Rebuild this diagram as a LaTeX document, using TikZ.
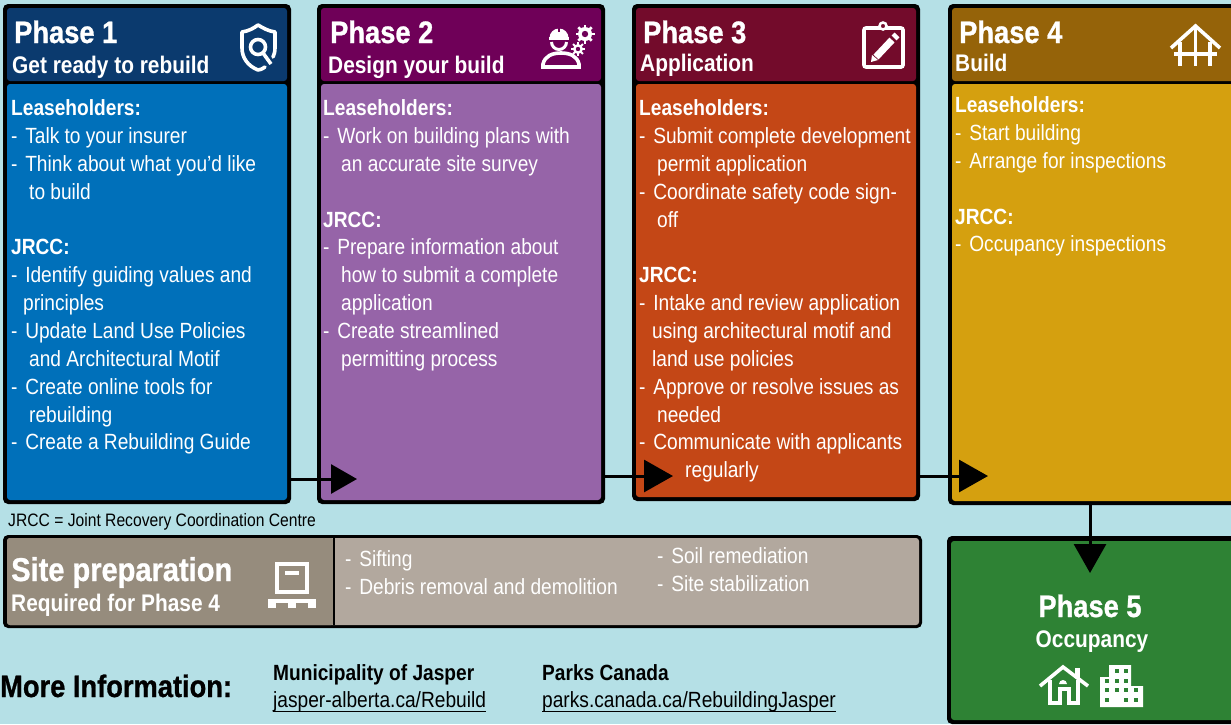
\documentclass[tikz,border=0pt]{standalone}
\usepackage{fontspec}
\setmainfont[FakeStretch=0.87]{Liberation Sans}
\newfontfamily\heavyfont[FakeStretch=0.88,BoldFeatures={FakeBold=0.9}]{Liberation Sans}
\usetikzlibrary{arrows.meta}

\newcommand{\stepdash}{-\hspace{2.4pt} }
\newcommand{\linktext}[1]{\underline{\smash{#1}\rule[-2.5pt]{0pt}{1pt}}}

\definecolor{pagebg}{HTML}{B5E0E6}
\definecolor{headone}{HTML}{0B3A6E}
\definecolor{fillone}{HTML}{0070BA}
\definecolor{headtwo}{HTML}{6F0058}
\definecolor{filltwo}{HTML}{9664A8}
\definecolor{headthree}{HTML}{730B2B}
\definecolor{fillthree}{HTML}{C44716}
\definecolor{headfour}{HTML}{956309}
\definecolor{fillfour}{HTML}{D5A00F}
\definecolor{fillfive}{HTML}{2E8234}
\definecolor{headsite}{HTML}{968C7D}
\definecolor{fillsite}{HTML}{B2A89E}

\tikzset{
  framebox/.style={anchor=north west, fill=black, rounded corners=5pt, inner sep=0pt, outer sep=0pt},
  panelbox/.style={anchor=north west, rounded corners=3pt, inner sep=0pt, outer sep=0pt},
  titletext/.style={anchor=base west, inner sep=0pt, text=white, font=\fontsize{31}{33}\heavyfont\bfseries},
  subtext/.style={anchor=base west, inner sep=0pt, text=white, font=\fontsize{24}{28}\selectfont\bfseries},
  bodytext/.style={anchor=north west, inner sep=0pt, text=white, align=left, font=\fontsize{22}{27.85}\selectfont},
  infotext/.style={anchor=base west, inner sep=0pt, text=black, font=\fontsize{22}{26}\selectfont},
  flowarrow/.style={line width=3pt, -{Triangle[length=26pt, width=29pt]}},
  wideflow/.style={line width=3pt, -{Triangle[length=29pt, width=32pt]}},
  iconline/.style={draw=white, line width=3.6pt}
}

\begin{document}
\begin{tikzpicture}[x=1pt, y=-1pt]

  % --- Page ---
  \useasboundingbox (0,0) rectangle (1231,724);
  \fill[pagebg] (0,0) rectangle (1231,724);

  % --- Phase 1 ---
  \node[framebox, minimum width=288pt, minimum height=500pt] (phaseone) at (3,4) {};
  \node[panelbox, fill=headone, minimum width=280pt, minimum height=73pt] (headerone) at (7,8) {};
  \node[panelbox, fill=fillone, minimum width=280pt, minimum height=416pt] (bodyone) at (7,84) {};
  \node[titletext] (titleone) at (14,43) {Phase 1};
  \node[subtext] (subone) at (12,73) {Get ready to rebuild};
  \node[bodytext] (textone) at (11,99.5) {\textbf{Leaseholders:}\\
    \stepdash Talk to your insurer\\
    \stepdash Think about what you’d like\\
    \hspace*{18pt}to build\\
    \\
    \textbf{JRCC:}\\
    \stepdash Identify guiding values and\\
    \hspace*{12pt}principles\\
    \stepdash Update Land Use Policies\\
    \hspace*{18pt}and Architectural Motif\\
    \stepdash Create online tools for\\
    \hspace*{18pt}rebuilding\\
    \stepdash Create a Rebuilding Guide};

  % --- Phase 2 ---
  \node[framebox, minimum width=288pt, minimum height=500pt] (phasetwo) at (317,4) {};
  \node[panelbox, fill=headtwo, minimum width=280pt, minimum height=73pt] (headertwo) at (321,8) {};
  \node[panelbox, fill=filltwo, minimum width=280pt, minimum height=416pt] (bodytwo) at (321,84) {};
  \node[titletext] (titletwo) at (330,43) {Phase 2};
  \node[subtext] (subtwo) at (328,73) {Design your build};
  \node[bodytext] (texttwo) at (323,99.5) {\textbf{Leaseholders:}\\
    \stepdash Work on building plans with\\
    \hspace*{18pt}an accurate site survey\\
    \\
    \textbf{JRCC:}\\
    \stepdash Prepare information about\\
    \hspace*{18pt}how to submit a complete\\
    \hspace*{18pt}application\\
    \stepdash Create streamlined\\
    \hspace*{18pt}permitting process};

  % --- Phase 3 ---
  \node[framebox, minimum width=288pt, minimum height=497pt] (phasethree) at (632,4) {};
  \node[panelbox, fill=headthree, minimum width=280pt, minimum height=73pt] (headerthree) at (636,8) {};
  \node[panelbox, fill=fillthree, minimum width=280pt, minimum height=413pt] (bodythree) at (636,84) {};
  \node[titletext] (titlethree) at (643,43) {Phase 3};
  \node[subtext] (subthree) at (640,71) {Application};
  \node[bodytext] (textthree) at (639,99.5) {\textbf{Leaseholders:}\\
    \stepdash Submit complete development\\
    \hspace*{18pt}permit application\\
    \stepdash Coordinate safety code sign-\\
    \hspace*{18pt}off\\
    \\
    \textbf{JRCC:}\\
    \stepdash Intake and review application\\
    \hspace*{13pt}using architectural motif and\\
    \hspace*{13pt}land use policies\\
    \stepdash Approve or resolve issues as\\
    \hspace*{18pt}needed\\
    \stepdash Communicate with applicants\\
    \hspace*{46pt}regularly};

  % --- Phase 4 ---
  \node[framebox, minimum width=290pt, minimum height=501pt] (phasefour) at (948,4) {};
  \node[panelbox, fill=headfour, minimum width=286pt, minimum height=73pt] (headerfour) at (952,8) {};
  \node[panelbox, fill=fillfour, minimum width=286pt, minimum height=417pt] (bodyfour) at (952,84) {};
  \node[titletext] (titlefour) at (959,43) {Phase 4};
  \node[subtext] (subfour) at (955,71) {Build};
  \node[bodytext] (textfour) at (955,96.5) {\textbf{Leaseholders:}\\
    \stepdash Start building\\
    \stepdash Arrange for inspections\\
    \\
    \textbf{JRCC:}\\
    \stepdash Occupancy inspections};

  % --- Phase 5 ---
  \node[framebox, minimum width=290pt, minimum height=188pt] (phasefive) at (947,536) {};
  \node[panelbox, fill=fillfive, minimum width=286pt, minimum height=179pt] (bodyfive) at (951,541) {};
  \node[titletext, anchor=base] (titlefive) at (1090,617) {Phase 5};
  \node[subtext, anchor=base] (subfive) at (1092,647) {Occupancy};

  % --- Note ---
  \node[infotext, font=\fontsize{18}{22}\selectfont] (jrccnote) at (8,526) {JRCC = Joint Recovery Coordination Centre};

  % --- Site preparation ---
  \node[framebox, minimum width=919pt, minimum height=93pt] (siteframe) at (3,535) {};
  \node[panelbox, fill=fillsite, minimum width=912pt, minimum height=87pt] (sitebody) at (7,538) {};
  \node[panelbox, fill=headsite, minimum width=327pt, minimum height=87pt] (sitehead) at (7,538) {};
  \draw[line width=2.5pt] (sitehead.north east) -- (sitehead.south east);
  \node[titletext, font=\fontsize{33}{36}\heavyfont\bfseries] (sitetitle) at (11,581) {Site preparation};
  \node[subtext] (sitesub) at (11,611) {Required for Phase 4};
  \node[bodytext] (siteleft) at (345,550.5) {\stepdash Sifting\\\stepdash Debris removal and demolition};
  \node[bodytext] (siteright) at (657,547.5) {\stepdash Soil remediation\\\stepdash Site stabilization};

  % --- More information ---
  \node[infotext, font=\fontsize{31}{36}\heavyfont\bfseries] (moreinfo) at (0,697) {More Information:};
  \node[infotext, font=\fontsize{22}{26}\selectfont\bfseries] (jaspername) at (273,680) {Municipality of Jasper};
  \node[infotext] (jasperlink) at (273,707) {\linktext{jasper-alberta.ca/Rebuild}};
  \node[infotext, font=\fontsize{22}{26}\selectfont\bfseries] (parksname) at (542,680) {Parks Canada};
  \node[infotext] (parkslink) at (542,707) {\linktext{parks.canada.ca/RebuildingJasper}};

  % --- Arrows ---
  \coordinate (tiptwo) at (357,479);
  \coordinate (tipthree) at (673,476);
  \coordinate (tipfour) at (988,476);
  \coordinate (tipfive) at (1090,573);
  \draw[flowarrow] (phaseone.east |- tiptwo) -- (tiptwo);
  \draw[wideflow] (phasetwo.east |- tipthree) -- (tipthree);
  \draw[wideflow] (phasethree.east |- tipfour) -- (tipfour);
  \draw[wideflow] (tipfive |- phasefour.south) -- (tipfive);

  % --- Icon: shield ---
  \draw[iconline, line cap=round, line join=round] (265,67) .. controls (262,69) and (260,70) .. (258,70)
        .. controls (248,66) and (242,58) .. (242,48) -- (242,32)
        .. controls (249,31) and (254,28) .. (258,25)
        .. controls (263,28) and (268,31) .. (275,32) -- (275,48)
        .. controls (275,52) and (274,55) .. (273,57);
  \draw[iconline] (258,47) circle (7.5);
  \draw[iconline] (263,53) -- (271,64);

  % --- Icon: worker with gears ---
  \draw[iconline] (543,67) -- (579,67) -- (579,64) .. controls (577,56) and (570,53) .. (561,53)
        .. controls (552,53) and (545,56) .. (543,64) -- cycle;
  \fill[white] (549.5,38) arc (180:360:9.5) -- cycle;
  \fill[white] (549,37) rectangle (569,40);
  \draw[line width=3pt, white] (551.5,42) arc (180:0:7.5);
  \fill[headtwo] (557.8,27) rectangle (560.2,32);
  \foreach \a in {0,45,...,315} {
    \draw[white, line width=2.6pt] (585,34) -- ++(\a:9.5);
    \draw[white, line width=2pt] (578,49) -- ++(\a:7);
  }
  \fill[white] (585,34) circle (7);
  \fill[headtwo] (585,34) circle (3.2);
  \fill[white] (578,49) circle (5);
  \fill[headtwo] (578,49) circle (2.2);

  % --- Icon: clipboard ---
  \draw[iconline, rounded corners=2pt] (864,28) rectangle (903,67);
  \draw[white, line width=2.5pt, fill=headthree] (883,26) circle (3.5);
  \draw[white, line width=7pt] (876,57) -- (892,40);
  \draw[white, line width=7pt] (894,38) -- (897,35);
  \fill[white] (871,62) -- (872,55) -- (878,60) -- cycle;

  % --- Icon: frame ---
  \draw[iconline] (1171,48) -- (1195.5,26) -- (1220,48);
  \draw[iconline] (1174,54) -- (1217,54);
  \draw[iconline] (1180,42) -- (1180,66);
  \draw[iconline] (1195.5,28) -- (1195.5,66);
  \draw[iconline] (1210,42) -- (1210,66);

  % --- Icon: pallet ---
  \draw[iconline] (277,564) rectangle (307,592);
  \fill[white] (285,571) rectangle (299,575);
  \fill[white] (268,599) rectangle (316,603);
  \foreach \x in {268,288,308} {
    \fill[white] (\x,603) rectangle (\x+8,608);
  }

  % --- Icon: house ---
  \draw[iconline] (1040,686) -- (1063,667) -- (1088,686);
  \fill[white] (1075,668) rectangle (1080,678);
  \draw[iconline] (1050,680) -- (1050,703) -- (1060,703) -- (1060,689) -- (1069,689) -- (1069,703) -- (1078,703) -- (1078,680);
  \fill[white] (1059,684) arc (180:360:4) -- cycle;

  % --- Icon: building ---
  \fill[white] (1109,665) -- (1131,665) -- (1131,686) -- (1143,686) -- (1143,707) -- (1100,707) -- (1100,677) -- (1109,677) -- cycle;
  \foreach \x/\y in {1117/671,1126/671,1107/681,1117/681,1126/681,1107/690,1117/690,1126/690,1136/690,1107/700,1126/700,1136/700} {
    \fill[fillfive] (\x-2.2,\y-2.2) rectangle (\x+2.2,\y+2.2);
  }

\end{tikzpicture}
\end{document}
